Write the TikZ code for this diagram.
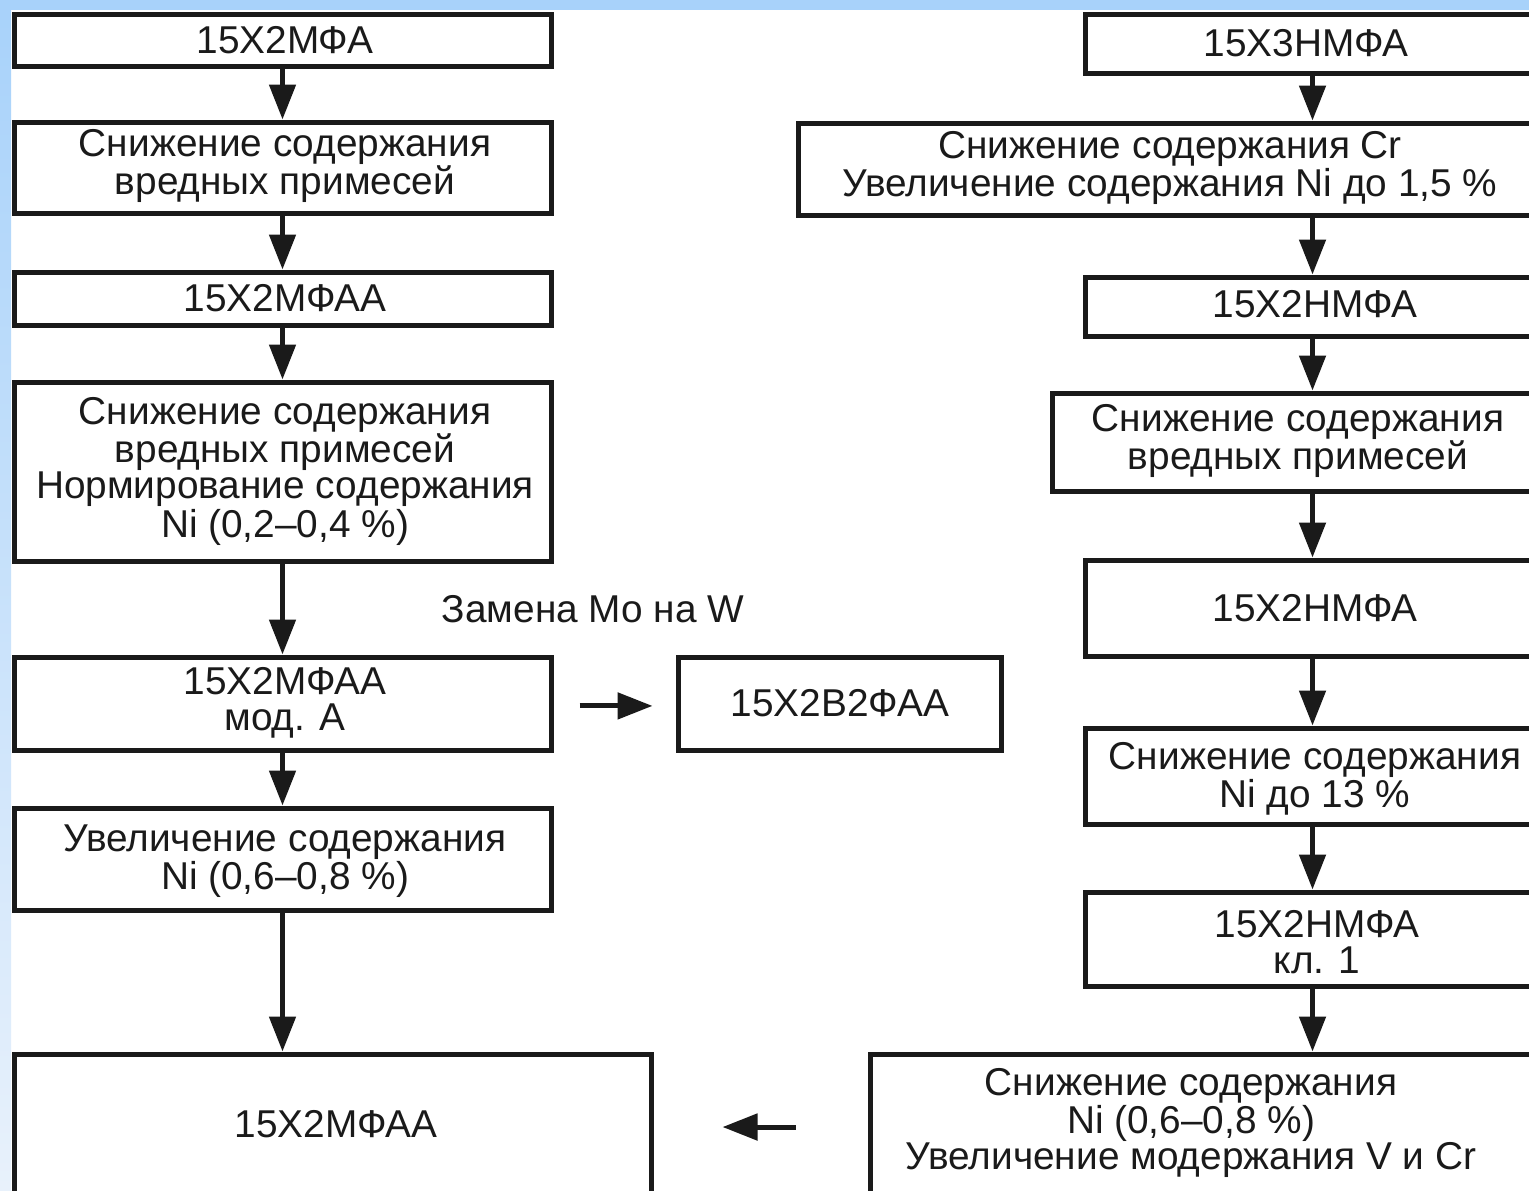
\documentclass[tikz,border=0pt]{standalone}
\usepackage{fontspec}
\setmainfont{Liberation Sans}
\usetikzlibrary{arrows.meta}
\definecolor{stripblue}{HTML}{A8D2FA}
\definecolor{stripfade}{HTML}{E8F1FB}
\definecolor{ink}{HTML}{1A1A1A}
\begin{document}
\begin{tikzpicture}[x=0.5pt,y=-0.5pt,
  box/.style n args={2}{draw=ink, line width=2.5pt, inner sep=0pt, minimum width=#1*0.5pt, minimum height=#2*0.5pt},
  lbl/.style={font=\fontsize{19.4pt}{18pt}\selectfont, align=center, inner sep=0pt, text=ink},
  arr/.style={line width=2.5pt, draw=ink, -{Triangle[length=17.5pt,width=13pt]}}]
\useasboundingbox (0,0) rectangle (1529,1190);
\clip (0,0) rectangle (1529,1190);
\fill[white] (0,0) rectangle (1529,1190);
\shade[top color=stripblue, bottom color=stripfade] (0,0) rectangle (11,1190);
\fill[stripblue] (0,0) rectangle (1529,10);

% left column
\node[box={537}{52}]  (B1) at (282.5,40) {};
\node[box={537}{91}]  (B2) at (282.5,167.5) {};
\node[box={537}{53}]  (B3) at (282.5,298.5) {};
\node[box={537}{179}] (B4) at (282.5,471.5) {};
\node[box={537}{93}]  (B5) at (282.5,703.5) {};
\node[box={537}{102}] (B6) at (282.5,859) {};
\node[box={637}{196}] (B7) at (332.5,1152) {};
\node[box={323}{93}]  (B8) at (839.5,703.5) {};

\node[lbl] (tB1) at (285,40) {15Х2МФА};
\node[lbl] (tB2) at (285,166) {Снижение содержания\\вредных примесей};
\node[lbl] (tB3) at (285,298) {15Х2МФАА};
\node[lbl] (tB4) at (285,471) {Снижение содержания\\вредных примесей\\Нормирование содержания\\Ni (0,2--0,4 \%)};
\node[lbl] (tB5) at (285,703) {15Х2МФАА\\мод. А};
\node[lbl] (tB6) at (285,861) {Увеличение содержания\\Ni (0,6--0,8 \%)};
\node[lbl] (tB7) at (336,1124) {15Х2МФАА};
\node[lbl] (tB8) at (840,703) {15Х2В2ФАА};
\node[lbl] (tW) at (593,609) {Замена Mo на W};

% right column
\node[box={455}{59}] (R1) at (1312.5,43.5) {};
\node[box={752}{92}] (R2) at (1174,169) {};
\node[box={455}{59}] (R3) at (1312.5,306.5) {};
\node[box={498}{98}] (R4) at (1301,442) {};
\node[box={455}{96}] (R5) at (1312.5,608) {};
\node[box={455}{96}] (R6) at (1312.5,776) {};
\node[box={455}{94}] (R7) at (1312.5,939) {};
\node[box={680}{196}] (R8) at (1210,1152) {};

\node[lbl] (tR1) at (1306,43) {15Х3НМФА};
\node[lbl] (tR2) at (1170,168) {Снижение содержания Cr\\Увеличение содержания Ni до 1,5 \%};
\node[lbl] (tR3) at (1315,304) {15Х2НМФА};
\node[lbl] (tR4) at (1298,441) {Снижение содержания\\вредных примесей};
\node[lbl] (tR5) at (1315,608) {15Х2НМФА};
\node[lbl] (tR6) at (1315,779) {Снижение содержания\\Ni до 13 \%};
\node[lbl] (tR7) at (1317,942) {15Х2НМФА\\кл. 1};
\node[lbl] (tR8) at (1191,1123) {Снижение содержания\\Ni (0,6--0,8 \%)\\Увеличение модержания V и Cr};

% arrows left
\draw[arr] (B1.south) -- (B2.north);
\draw[arr] (B2.south) -- (B3.north);
\draw[arr] (B3.south) -- (B4.north);
\draw[arr] (B4.south) -- (B5.north);
\draw[arr] (B5.south) -- (B6.north);
\draw[arr] (B6.south) -- (B6.south |- B7.north);
\draw[arr] ([xshift=13pt,yshift=-1.2pt]B5.east) -- ([xshift=-11.5pt,yshift=-1.2pt]B8.west);

% arrows right
\draw[arr] (R1.south) -- (R1.south |- R2.north);
\draw[arr] (R2.south -| R3.north) -- (R3.north);
\draw[arr] (R3.south) -- (R3.south |- R4.north);
\draw[arr] (R4.south -| R5.north) -- (R5.north);
\draw[arr] (R5.south) -- (R6.north);
\draw[arr] (R6.south) -- (R7.north);
\draw[arr] (R7.south) -- (R7.south |- R8.north);
\draw[arr] ([xshift=-36pt,yshift=12.5pt]R8.west) -- ([xshift=34.5pt,yshift=12.5pt]B7.east);
\end{tikzpicture}
\end{document}
